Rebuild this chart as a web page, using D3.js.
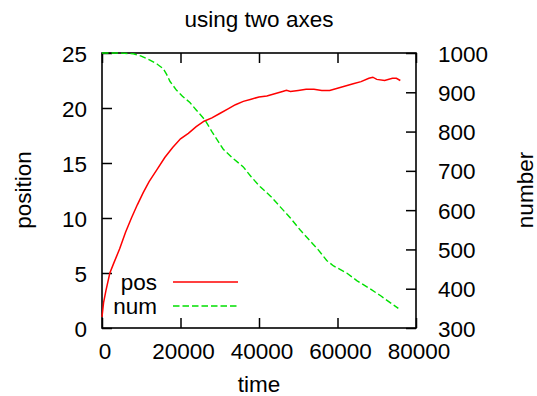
<!DOCTYPE html>
<html>
<head>
<meta charset="utf-8">
<script src="https://cdn.jsdelivr.net/npm/d3@7"></script>
<style>
  body { margin: 0; background: #fff; }
  svg { font-family: "Liberation Sans", Arial, sans-serif; }
</style>
</head>
<body>
<svg id="chart" width="537" height="396"></svg>
<script>
// data
var posTime = [0, 400, 1000, 2000, 3000, 4500, 6000, 7500, 9000, 10500, 12000, 14000, 16000, 18000,
  20000, 22000, 24000, 26000, 28000, 30000, 32000, 34000, 36000, 38000, 40000, 42000, 44000,
  46000, 47000, 48000, 50000, 52000, 54000, 56000, 58000, 60000, 62000, 64000, 66000, 68000,
  69000, 70000, 72000, 74000, 75000, 76000];
var posValue = [1.0, 2.3, 3.4, 5.0, 5.9, 7.2, 8.7, 10.0, 11.2, 12.3, 13.3, 14.4, 15.5, 16.4,
  17.2, 17.7, 18.3, 18.8, 19.1, 19.5, 19.9, 20.3, 20.6, 20.8, 21.0, 21.1, 21.3,
  21.5, 21.6, 21.5, 21.6, 21.7, 21.7, 21.6, 21.6, 21.8, 22.0, 22.2, 22.4, 22.7,
  22.8, 22.6, 22.5, 22.7, 22.7, 22.5];

var numTime = [0, 4000, 8000, 10000, 12200, 14000, 15600, 16500, 17300, 19000, 20500, 22400,
  24000, 26200, 28000, 30900, 33000, 36000, 38000, 40250, 43000, 45350, 48000, 50450, 53000,
  55000, 57250, 59000, 62340, 65000, 68280, 71000, 73500, 75500];
var numValue = [1000, 1000, 998, 992, 982, 972, 960, 945, 928, 905, 890, 874,
  855, 830, 800, 755, 735, 710, 685, 660, 635, 609, 580, 550, 522,
  500, 472, 458, 440, 420, 400, 382, 364, 350];

var xTicks = [0, 20000, 40000, 60000, 80000];
var yTicks = [0, 5, 10, 15, 20, 25];
var y2Ticks = [300, 400, 500, 600, 700, 800, 900, 1000];

(function() {
var svg = d3.select('#chart');
var pLeft = 102, pRight = 416, pTop = 53, pBottom = 328;
var fontSize = 22.5;

var x = d3.scaleLinear().domain([0, 80000]).range([pLeft, pRight]);
var y = d3.scaleLinear().domain([0, 25]).range([pBottom, pTop]);
var y2 = d3.scaleLinear().domain([300, 1000]).range([pBottom, pTop]);

var fmt = d3.format('d');

// bottom axis
var gx = svg.append('g')
  .attr('transform', 'translate(0,' + pBottom + ')')
  .call(d3.axisBottom(x).tickValues(xTicks).tickFormat(fmt).tickSizeInner(-10).tickSizeOuter(0));
gx.selectAll('text').attr('y', 31).attr('dy', null).attr('dx', 2.5);

// top mirror ticks
svg.append('g')
  .attr('transform', 'translate(0,' + pTop + ')')
  .call(d3.axisTop(x).tickValues(xTicks).tickFormat('').tickSizeInner(-10).tickSizeOuter(0));

// left axis
var gy = svg.append('g')
  .attr('transform', 'translate(' + pLeft + ',0)')
  .call(d3.axisLeft(y).tickValues(yTicks).tickFormat(fmt).tickSizeInner(-10).tickSizeOuter(0));
gy.selectAll('text').attr('x', -15).attr('dy', 8);

// right axis
var gy2 = svg.append('g')
  .attr('transform', 'translate(' + pRight + ',0)')
  .call(d3.axisRight(y2).tickValues(y2Ticks).tickFormat(fmt).tickSizeInner(-10).tickSizeOuter(0));
gy2.selectAll('text').attr('x', 22).attr('dy', 8);

svg.selectAll('.domain').remove();
svg.selectAll('.tick line').attr('stroke', '#000').attr('stroke-width', 1.5);
svg.selectAll('.tick text')
  .attr('fill', '#000')
  .style('font-size', fontSize + 'px')
  .style('font-family', '"Liberation Sans", Arial, sans-serif');

// border
svg.append('rect')
  .attr('x', pLeft).attr('y', pTop)
  .attr('width', pRight - pLeft).attr('height', pBottom - pTop)
  .attr('fill', 'none').attr('stroke', '#000').attr('stroke-width', 1.6);

// lines
var posLine = d3.line()
  .x(function(d, i) { return x(posTime[i]); })
  .y(function(d) { return y(d); });
var numLine = d3.line()
  .x(function(d, i) { return x(numTime[i]); })
  .y(function(d) { return y2(d); });

svg.append('path')
  .datum(posValue)
  .attr('d', posLine)
  .attr('fill', 'none')
  .attr('stroke', '#ff0000')
  .attr('stroke-width', 1.5);

svg.append('path')
  .datum(numValue)
  .attr('d', numLine)
  .attr('fill', 'none')
  .attr('stroke', '#00e000')
  .attr('stroke-width', 1.4)
  .attr('stroke-dasharray', '6.5,3');

// legend
var legend = [
  {name: 'pos', color: '#ff0000', dash: null, yy: 282},
  {name: 'num', color: '#00e000', dash: '6.5,3', yy: 306}
];
legend.forEach(function(l) {
  svg.append('text')
    .attr('x', 157).attr('y', l.yy + 8)
    .attr('text-anchor', 'end')
    .style('font-size', fontSize + 'px')
    .text(l.name);
  svg.append('line')
    .attr('x1', 173).attr('x2', 238)
    .attr('y1', l.yy).attr('y2', l.yy)
    .attr('stroke', l.color)
    .attr('stroke-width', 1.4)
    .attr('stroke-dasharray', l.dash);
});

// titles
svg.append('text')
  .attr('x', (pLeft + pRight) / 2).attr('y', 27)
  .attr('text-anchor', 'middle')
  .style('font-size', fontSize + 'px')
  .text('using two axes');

svg.append('text')
  .attr('x', (pLeft + pRight) / 2).attr('y', 392)
  .attr('text-anchor', 'middle')
  .style('font-size', fontSize + 'px')
  .text('time');

svg.append('text')
  .attr('transform', 'translate(31,190) rotate(-90)')
  .attr('text-anchor', 'middle')
  .style('font-size', fontSize + 'px')
  .text('position');

svg.append('text')
  .attr('transform', 'translate(533,190) rotate(-90)')
  .attr('text-anchor', 'middle')
  .style('font-size', fontSize + 'px')
  .text('number');
})();
</script>
</body>
</html>
